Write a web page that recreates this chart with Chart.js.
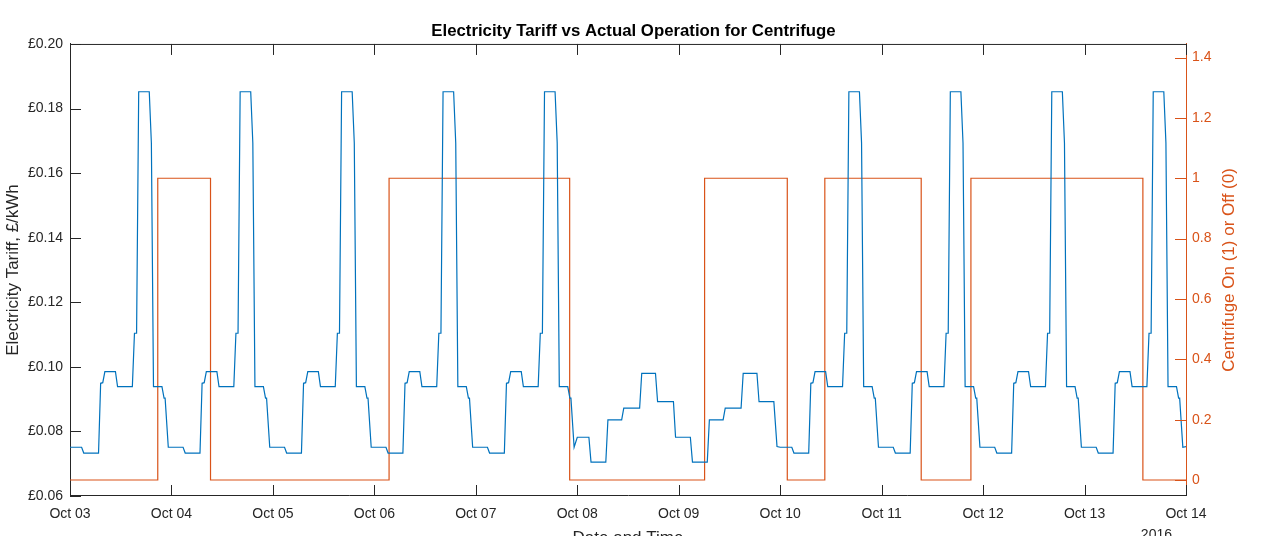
<!DOCTYPE html>
<html>
<head>
<meta charset="utf-8">
<script src="https://cdn.jsdelivr.net/npm/chart.js@4/dist/chart.umd.min.js"></script>
<style>
  html, body { margin: 0; padding: 0; background: #fff; overflow: hidden; }
  #wrap { width: 1267px; height: 536px; overflow: hidden; }
</style>
</head>
<body>
<div id="wrap"><canvas id="chart" width="1267" height="556"></canvas></div>
<script>
// x axis is in days since Oct 03 2016 00:00
const dayLabels = ['Oct 03', 'Oct 04', 'Oct 05', 'Oct 06', 'Oct 07', 'Oct 08', 'Oct 09',
                   'Oct 10', 'Oct 11', 'Oct 12', 'Oct 13', 'Oct 14'];
const dayTypes = ['weekday', 'weekday', 'weekday', 'weekday', 'weekday', 'saturday', 'sunday',
                  'weekday', 'weekday', 'weekday', 'weekday'];

// tariff profiles (hour of day -> £/kWh)
const weekdayHours  = [0, 2.75, 3.25, 6.75, 7.25, 7.75, 8.25, 10.75, 11.25, 14.75, 15.25, 15.75,
                       16.25, 18.75, 19.25, 19.75, 21.75, 22.25, 22.5, 23.25];
const weekdayTariff = [0.0751, 0.0751, 0.0733, 0.0733, 0.0949, 0.0951, 0.0985, 0.0985, 0.0939, 0.0939, 0.1104, 0.1104,
                       0.1852, 0.1852, 0.1693, 0.0939, 0.0939, 0.0903, 0.0903, 0.0751];
const saturdayHours  = [0, 2.75, 3.25, 6.75, 7.25, 10.5, 11.0, 14.75, 15.25, 18.5, 19.0, 22.75, 23.25];
const saturdayTariff = [0.0782, 0.0782, 0.0705, 0.0705, 0.0836, 0.0836, 0.0872, 0.0872, 0.0980, 0.0980, 0.0892, 0.0892, 0.0782];
const sundayHours  = [0, 2.75, 3.25, 6.75, 7.25, 10.5, 11.0, 14.75, 15.25, 18.5, 19.0, 22.5, 23.25];
const sundayTariff = [0.0782, 0.0782, 0.0705, 0.0705, 0.0836, 0.0836, 0.0872, 0.0872, 0.0980, 0.0980, 0.0892, 0.0892, 0.0753];
const endTariff = 0.0753;

// centrifuge on/off switching times (days since Oct 03) and state from that time on
const switchDays = [0, 0.865, 1.385, 3.145, 4.925, 6.255, 7.07, 7.44, 8.39, 8.88, 10.575, 11];
const centrifugeState = [0, 1, 0, 1, 0, 1, 0, 1, 0, 1, 0, 0];

const profiles = {
    weekday: [weekdayHours, weekdayTariff],
    saturday: [saturdayHours, saturdayTariff],
    sunday: [sundayHours, sundayTariff]
};

const tariffPoints = [];
dayTypes.forEach(function(type, d) {
    const hours = profiles[type][0];
    const vals = profiles[type][1];
    for (let i = 0; i < hours.length; i++) {
        tariffPoints.push({ x: d + hours[i] / 24, y: vals[i] });
    }
});
tariffPoints.push({ x: dayTypes.length, y: endTariff });

const centrifugePoints = switchDays.map(function(t, i) {
    return { x: t, y: centrifugeState[i] };
});

const BLUE = '#0072BD';
const ORANGE = '#D95319';
const AXIS = '#262626';
const FONT = "'Liberation Sans', Arial, sans-serif";
const TICK_LEN = 11;
const LABEL_SIZE = 17;

// MATLAB style ticks that point into the axes, plus the box top and the 2016 / right labels
const matlabAxes = {
    id: 'matlabAxes',
    afterDraw(chart) {
        const ctx = chart.ctx;
        const area = chart.chartArea;
        const xs = chart.scales.x, yl = chart.scales.y, yr = chart.scales.y1;
        ctx.save();
        ctx.lineWidth = 1;

        ctx.strokeStyle = AXIS;
        ctx.beginPath();
        ctx.moveTo(area.left, area.top + 0.5);
        ctx.lineTo(area.right, area.top + 0.5);
        xs.ticks.forEach(function(t) {
            const px = Math.round(xs.getPixelForValue(t.value)) + 0.5;
            ctx.moveTo(px, area.bottom);
            ctx.lineTo(px, area.bottom - TICK_LEN);
            ctx.moveTo(px, area.top);
            ctx.lineTo(px, area.top + TICK_LEN);
        });
        yl.ticks.forEach(function(t) {
            const py = Math.round(yl.getPixelForValue(t.value)) + 0.5;
            ctx.moveTo(area.left, py);
            ctx.lineTo(area.left + TICK_LEN, py);
        });
        ctx.stroke();

        ctx.strokeStyle = ORANGE;
        ctx.beginPath();
        yr.ticks.forEach(function(t) {
            const py = Math.round(yr.getPixelForValue(t.value)) + 0.5;
            ctx.moveTo(area.right, py);
            ctx.lineTo(area.right - TICK_LEN, py);
        });
        ctx.stroke();

        // right axis title, reading bottom to top
        ctx.fillStyle = ORANGE;
        ctx.font = LABEL_SIZE + 'px ' + FONT;
        ctx.textAlign = 'center';
        ctx.textBaseline = 'middle';
        ctx.translate(1229, (area.top + area.bottom) / 2);
        ctx.rotate(-Math.PI / 2);
        ctx.fillText('Centrifuge On (1) or Off (0)', 0, 0);
        ctx.setTransform(1, 0, 0, 1, 0, 0);

        ctx.fillStyle = AXIS;
        ctx.font = '14px ' + FONT;
        ctx.textAlign = 'right';
        ctx.textBaseline = 'top';
        ctx.fillText('2016', xs.getPixelForValue(11) - 14, 528);
        ctx.restore();
    }
};

const ctx = document.getElementById('chart').getContext('2d');
new Chart(ctx, {
    type: 'line',
    data: {
        datasets: [{
            label: 'Tariff',
            data: tariffPoints,
            yAxisID: 'y',
            borderColor: BLUE,
            borderWidth: 1.2,
            pointRadius: 0,
            tension: 0,
            fill: false
        }, {
            label: 'Centrifuge',
            data: centrifugePoints,
            yAxisID: 'y1',
            borderColor: ORANGE,
            borderWidth: 1.2,
            pointRadius: 0,
            stepped: true,
            fill: false
        }]
    },
    options: {
        responsive: false,
        animation: false,
        events: [],
        layout: { padding: 0 },
        plugins: {
            legend: { display: false },
            tooltip: { enabled: false },
            title: {
                display: true,
                text: 'Electricity Tariff vs Actual Operation for Centrifuge',
                color: '#000',
                font: { family: FONT, size: 16.8, weight: 'bold' },
                padding: { top: 21, bottom: 2.8 }
            }
        },
        scales: {
            x: {
                type: 'linear',
                position: 'bottom',
                min: 0,
                max: 11,
                afterFit(s) { s.height = 60; },
                grid: { display: false, drawTicks: false },
                border: { display: true, color: AXIS, width: 1 },
                ticks: {
                    stepSize: 1,
                    color: AXIS,
                    padding: 10,
                    maxRotation: 0,
                    autoSkip: false,
                    font: { family: FONT, size: 14 },
                    callback: function(v) { return dayLabels[Math.round(v)]; }
                },
                title: {
                    display: true,
                    text: 'Date and Time',
                    color: AXIS,
                    font: { family: FONT, size: LABEL_SIZE },
                    padding: { top: 0, bottom: 7 }
                }
            },
            y: {
                position: 'left',
                min: 0.06,
                max: 0.20,
                afterFit(s) { s.width = 70; },
                grid: { display: false, drawTicks: false },
                border: { display: true, color: AXIS, width: 1 },
                ticks: {
                    stepSize: 0.02,
                    color: AXIS,
                    padding: 7,
                    font: { family: FONT, size: 14 },
                    callback: function(v) { return '£' + v.toFixed(2); }
                },
                title: {
                    display: true,
                    text: 'Electricity Tariff, £/kWh',
                    color: AXIS,
                    font: { family: FONT, size: LABEL_SIZE },
                    padding: { top: 3, bottom: 0 }
                }
            },
            y1: {
                position: 'right',
                min: -0.053,
                max: 1.445,
                afterFit(s) { s.width = 81; },
                grid: { display: false, drawTicks: false },
                border: { display: true, color: ORANGE, width: 1 },
                ticks: {
                    stepSize: 0.2,
                    includeBounds: false,
                    color: ORANGE,
                    padding: 6,
                    font: { family: FONT, size: 14 },
                    callback: function(v) { return String(Number(v.toFixed(1))); }
                }
            }
        }
    },
    plugins: [matlabAxes]
});
</script>
</body>
</html>
